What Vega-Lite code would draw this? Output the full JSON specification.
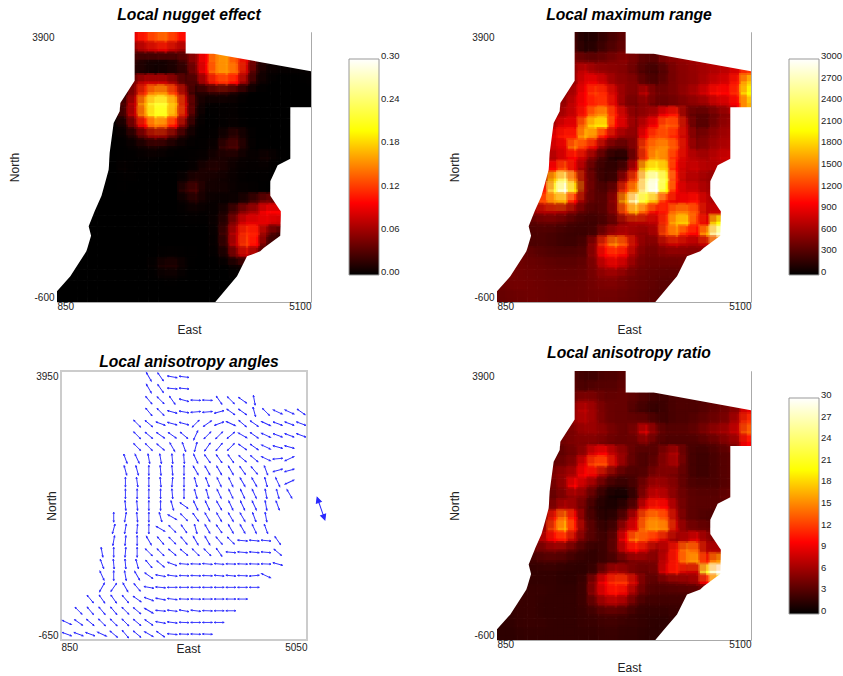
{"$schema":"https://vega.github.io/schema/vega-lite/v6.json","background":"white","padding":{"left":8,"top":6,"right":0,"bottom":0},"bounds":"flush","center":true,"columns":2,"spacing":{"row":69,"column":186},"resolve":{"scale":{"color":"independent"}},
"config":{"font":"Liberation Sans","view":{"stroke":"#aaa","strokeWidth":1},"title":{"font":"Liberation Sans","fontSize":15.7,"fontWeight":"bold","fontStyle":"italic","color":"#000","dx":5},"axis":{"domain":false,"ticks":false,"grid":false,"labelFlush":true,"labelFontSize":10,"labelColor":"#222","titleFontSize":12,"titleFontWeight":"normal","titleColor":"#222","labelOverlap":false,"labelExpr":"'' + datum.value"},"legend":{"gradientLength":216,"gradientThickness":30,"gradientStrokeColor":"#999","gradientStrokeWidth":1,"labelFontSize":9.5,"labelColor":"#222","labelOffset":6,"title":null}},
"datasets":{
"bnd":[{"y":3900,"xl":2149,"xr":3003},{"y":3540,"xl":2149,"xr":3003},{"y":3539,"xl":2149,"xr":3471},{"y":3244,"xl":2149,"xr":5100},{"y":3089,"xl":2149,"xr":5100},{"y":2717,"xl":1910,"xr":5100},{"y":2645,"xl":1905,"xr":5100},{"y":2644,"xl":1903,"xr":4754},{"y":2578,"xl":1899,"xr":4754},{"y":2383,"xl":1798,"xr":4754},{"y":1883,"xl":1731,"xr":4754},{"y":1789,"xl":1725,"xr":4754},{"y":1678,"xl":1720,"xr":4542},{"y":1605,"xl":1714,"xr":4508},{"y":1411,"xl":1662,"xr":4419},{"y":1172,"xl":1595,"xr":4419},{"y":939,"xl":1491,"xr":4575},{"y":911,"xl":1480,"xr":4598},{"y":661,"xl":1380,"xr":4592},{"y":505,"xl":1420,"xr":4586},{"y":300,"xl":1359,"xr":4308},{"y":244,"xl":1341,"xr":4250},{"y":161,"xl":1288,"xr":4029},{"y":-172,"xl":1073,"xr":3862},{"y":-422,"xl":850,"xr":3650},{"y":-600,"xl":850,"xr":3499}],
"cells":[
{"x":2125,"y":3810,"n":0.09,"r":250,"a":3},{"x":2295,"y":3810,"n":0.11,"r":120,"a":2.5},{"x":2465,"y":3810,"n":0.13,"r":150,"a":2.5},{"x":2635,"y":3810,"n":0.14,"r":220,"a":3},{"x":2805,"y":3810,"n":0.12,"r":300,"a":3},{"x":2975,"y":3810,"n":0.1,"r":380,"a":3.5},
{"x":2125,"y":3630,"n":0.05,"r":300,"a":3.5},{"x":2295,"y":3630,"n":0.07,"r":150,"a":3},{"x":2465,"y":3630,"n":0.08,"r":180,"a":3.5},{"x":2635,"y":3630,"n":0.09,"r":280,"a":3.5},{"x":2805,"y":3630,"n":0.07,"r":350,"a":3.5},{"x":2975,"y":3630,"n":0.06,"r":420,"a":4},
{"x":2125,"y":3450,"n":0.02,"r":500,"a":4.5},{"x":2295,"y":3450,"n":0.012,"r":450,"a":5.5},{"x":2465,"y":3450,"n":0.01,"r":420,"a":5},{"x":2635,"y":3450,"n":0.01,"r":450,"a":4},{"x":2805,"y":3450,"n":0.015,"r":500,"a":4},{"x":2975,"y":3450,"n":0.03,"r":550,"a":4},{"x":3145,"y":3450,"n":0.06,"r":450,"a":3.5},{"x":3315,"y":3450,"n":0.1,"r":350,"a":3},{"x":3485,"y":3450,"n":0.15,"r":350,"a":2.5},{"x":3655,"y":3450,"n":0.16,"r":500,"a":2.5},{"x":3825,"y":3450,"n":0.13,"r":550,"a":3},{"x":3995,"y":3450,"n":0.09,"r":600,"a":3},{"x":4165,"y":3450,"n":0.03,"r":650,"a":3},{"x":4335,"y":3450,"n":0.01,"r":700,"a":3},{"x":4505,"y":3450,"n":0.005,"r":750,"a":3.5},
{"x":2125,"y":3270,"n":0.015,"r":600,"a":6},{"x":2295,"y":3270,"n":0.01,"r":800,"a":7.5},{"x":2465,"y":3270,"n":0.006,"r":650,"a":6},{"x":2635,"y":3270,"n":0.008,"r":600,"a":4.5},{"x":2805,"y":3270,"n":0.012,"r":550,"a":4},{"x":2975,"y":3270,"n":0.02,"r":500,"a":4},{"x":3145,"y":3270,"n":0.05,"r":400,"a":3},{"x":3315,"y":3270,"n":0.1,"r":280,"a":2.5},{"x":3485,"y":3270,"n":0.15,"r":250,"a":2},{"x":3655,"y":3270,"n":0.16,"r":350,"a":2.5},{"x":3825,"y":3270,"n":0.14,"r":500,"a":3},{"x":3995,"y":3270,"n":0.08,"r":550,"a":3},{"x":4165,"y":3270,"n":0.02,"r":600,"a":3},{"x":4335,"y":3270,"n":0.005,"r":650,"a":3.5},{"x":4505,"y":3270,"n":0.003,"r":700,"a":4},{"x":4675,"y":3270,"n":0.002,"r":750,"a":4.5},{"x":4845,"y":3270,"n":0.002,"r":850,"a":5.5},{"x":5015,"y":3270,"n":0.002,"r":1200,"a":9},
{"x":2125,"y":3090,"n":0.05,"r":600,"a":6},{"x":2295,"y":3090,"n":0.08,"r":900,"a":7},{"x":2465,"y":3090,"n":0.08,"r":950,"a":6},{"x":2635,"y":3090,"n":0.08,"r":800,"a":4.5},{"x":2805,"y":3090,"n":0.06,"r":600,"a":4},{"x":2975,"y":3090,"n":0.03,"r":550,"a":4},{"x":3145,"y":3090,"n":0.03,"r":500,"a":4},{"x":3315,"y":3090,"n":0.07,"r":350,"a":4},{"x":3485,"y":3090,"n":0.11,"r":300,"a":3},{"x":3655,"y":3090,"n":0.12,"r":400,"a":2.5},{"x":3825,"y":3090,"n":0.1,"r":500,"a":3},{"x":3995,"y":3090,"n":0.05,"r":550,"a":3},{"x":4165,"y":3090,"n":0.01,"r":600,"a":3.5},{"x":4335,"y":3090,"n":0.003,"r":700,"a":4},{"x":4505,"y":3090,"n":0,"r":800,"a":4.5},{"x":4675,"y":3090,"n":0,"r":850,"a":5},{"x":4845,"y":3090,"n":0,"r":1100,"a":7},{"x":5015,"y":3090,"n":0.001,"r":1800,"a":12},
{"x":1955,"y":2910,"n":0.01,"r":500,"a":4},{"x":2125,"y":2910,"n":0.06,"r":700,"a":5},{"x":2295,"y":2910,"n":0.12,"r":1000,"a":6},{"x":2465,"y":2910,"n":0.16,"r":1250,"a":6},{"x":2635,"y":2910,"n":0.16,"r":1150,"a":5.5},{"x":2805,"y":2910,"n":0.12,"r":800,"a":4.5},{"x":2975,"y":2910,"n":0.06,"r":550,"a":4},{"x":3145,"y":2910,"n":0.015,"r":500,"a":5},{"x":3315,"y":2910,"n":0.015,"r":750,"a":8.5},{"x":3485,"y":2910,"n":0.02,"r":450,"a":5},{"x":3655,"y":2910,"n":0.02,"r":450,"a":3.5},{"x":3825,"y":2910,"n":0.01,"r":500,"a":3.5},{"x":3995,"y":2910,"n":0.003,"r":600,"a":3.5},{"x":4165,"y":2910,"n":0,"r":700,"a":4},{"x":4335,"y":2910,"n":0,"r":850,"a":5},{"x":4505,"y":2910,"n":0,"r":1050,"a":6},{"x":4675,"y":2910,"n":0,"r":1000,"a":6.5},{"x":4845,"y":2910,"n":0,"r":1200,"a":8},{"x":5015,"y":2910,"n":0,"r":2000,"a":14},
{"x":1955,"y":2730,"n":0.03,"r":600,"a":4.5},{"x":2125,"y":2730,"n":0.08,"r":800,"a":5},{"x":2295,"y":2730,"n":0.17,"r":1000,"a":5},{"x":2465,"y":2730,"n":0.22,"r":1150,"a":5},{"x":2635,"y":2730,"n":0.22,"r":1200,"a":4.5},{"x":2805,"y":2730,"n":0.17,"r":850,"a":4},{"x":2975,"y":2730,"n":0.08,"r":500,"a":4},{"x":3145,"y":2730,"n":0.02,"r":450,"a":4},{"x":3315,"y":2730,"n":0.003,"r":550,"a":5},{"x":3485,"y":2730,"n":0.002,"r":400,"a":3.5},{"x":3655,"y":2730,"n":0.002,"r":400,"a":3},{"x":3825,"y":2730,"n":0.002,"r":450,"a":3},{"x":3995,"y":2730,"n":0,"r":500,"a":3},{"x":4165,"y":2730,"n":0,"r":550,"a":3},{"x":4335,"y":2730,"n":0,"r":600,"a":3.5},{"x":4505,"y":2730,"n":0,"r":750,"a":4},{"x":4675,"y":2730,"n":0,"r":800,"a":5},{"x":4845,"y":2730,"n":0,"r":1000,"a":6},{"x":5015,"y":2730,"n":0,"r":1700,"a":10},
{"x":1785,"y":2550,"n":0.005,"r":500,"a":3},{"x":1955,"y":2550,"n":0.03,"r":700,"a":4},{"x":2125,"y":2550,"n":0.08,"r":800,"a":4.5},{"x":2295,"y":2550,"n":0.16,"r":1100,"a":6},{"x":2465,"y":2550,"n":0.21,"r":1500,"a":9},{"x":2635,"y":2550,"n":0.21,"r":1600,"a":10},{"x":2805,"y":2550,"n":0.16,"r":1100,"a":7},{"x":2975,"y":2550,"n":0.08,"r":750,"a":5.5},{"x":3145,"y":2550,"n":0.015,"r":500,"a":3.5},{"x":3315,"y":2550,"n":0,"r":600,"a":3},{"x":3485,"y":2550,"n":0.001,"r":700,"a":3.5},{"x":3655,"y":2550,"n":0.002,"r":1000,"a":5.5},{"x":3825,"y":2550,"n":0.002,"r":1100,"a":7},{"x":3995,"y":2550,"n":0,"r":500,"a":3.5},{"x":4165,"y":2550,"n":0,"r":350,"a":2.5},{"x":4335,"y":2550,"n":0,"r":350,"a":2.5},{"x":4505,"y":2550,"n":0,"r":450,"a":3},{"x":4675,"y":2550,"n":0,"r":550,"a":3.5},
{"x":1785,"y":2370,"n":0.002,"r":700,"a":4},{"x":1955,"y":2370,"n":0.01,"r":900,"a":4.5},{"x":2125,"y":2370,"n":0.05,"r":900,"a":5.5},{"x":2295,"y":2370,"n":0.1,"r":1500,"a":9},{"x":2465,"y":2370,"n":0.15,"r":1900,"a":13},{"x":2635,"y":2370,"n":0.14,"r":1900,"a":13},{"x":2805,"y":2370,"n":0.1,"r":1000,"a":8},{"x":2975,"y":2370,"n":0.04,"r":800,"a":5},{"x":3145,"y":2370,"n":0.005,"r":550,"a":3.5},{"x":3315,"y":2370,"n":0,"r":800,"a":3},{"x":3485,"y":2370,"n":0.001,"r":1000,"a":4},{"x":3655,"y":2370,"n":0.002,"r":1400,"a":5.5},{"x":3825,"y":2370,"n":0.003,"r":1300,"a":6.5},{"x":3995,"y":2370,"n":0.001,"r":700,"a":3.5},{"x":4165,"y":2370,"n":0,"r":350,"a":2.5},{"x":4335,"y":2370,"n":0,"r":350,"a":2.5},{"x":4505,"y":2370,"n":0,"r":500,"a":3},{"x":4675,"y":2370,"n":0,"r":600,"a":3.5},
{"x":1785,"y":2190,"n":0.001,"r":900,"a":5},{"x":1955,"y":2190,"n":0.003,"r":1100,"a":6},{"x":2125,"y":2190,"n":0.015,"r":1100,"a":7},{"x":2295,"y":2190,"n":0.04,"r":1700,"a":10},{"x":2465,"y":2190,"n":0.06,"r":1500,"a":9},{"x":2635,"y":2190,"n":0.055,"r":1000,"a":6},{"x":2805,"y":2190,"n":0.03,"r":700,"a":4},{"x":2975,"y":2190,"n":0.01,"r":550,"a":3},{"x":3145,"y":2190,"n":0.002,"r":550,"a":3},{"x":3315,"y":2190,"n":0.001,"r":1000,"a":3.5},{"x":3485,"y":2190,"n":0.002,"r":1300,"a":5},{"x":3655,"y":2190,"n":0.01,"r":1300,"a":5},{"x":3825,"y":2190,"n":0.02,"r":1100,"a":4.5},{"x":3995,"y":2190,"n":0.006,"r":750,"a":3.5},{"x":4165,"y":2190,"n":0,"r":450,"a":2.5},{"x":4335,"y":2190,"n":0,"r":500,"a":2.5},{"x":4505,"y":2190,"n":0,"r":600,"a":3},{"x":4675,"y":2190,"n":0,"r":650,"a":3.5},
{"x":1785,"y":2010,"n":0,"r":800,"a":4.5},{"x":1955,"y":2010,"n":0.001,"r":900,"a":6},{"x":2125,"y":2010,"n":0.004,"r":1500,"a":10},{"x":2295,"y":2010,"n":0.008,"r":1200,"a":7},{"x":2465,"y":2010,"n":0.012,"r":900,"a":5},{"x":2635,"y":2010,"n":0.008,"r":500,"a":3},{"x":2805,"y":2010,"n":0.004,"r":350,"a":2},{"x":2975,"y":2010,"n":0.002,"r":350,"a":2},{"x":3145,"y":2010,"n":0.001,"r":550,"a":3},{"x":3315,"y":2010,"n":0.002,"r":1300,"a":5},{"x":3485,"y":2010,"n":0.005,"r":1500,"a":6.5},{"x":3655,"y":2010,"n":0.025,"r":1550,"a":6},{"x":3825,"y":2010,"n":0.03,"r":1300,"a":5},{"x":3995,"y":2010,"n":0.008,"r":800,"a":3.5},{"x":4165,"y":2010,"n":0,"r":500,"a":3},{"x":4335,"y":2010,"n":0.001,"r":550,"a":3},{"x":4505,"y":2010,"n":0,"r":650,"a":3},{"x":4675,"y":2010,"n":0,"r":700,"a":3.5},
{"x":1785,"y":1830,"n":0,"r":700,"a":4},{"x":1955,"y":1830,"n":0.001,"r":850,"a":5},{"x":2125,"y":1830,"n":0.001,"r":1000,"a":6},{"x":2295,"y":1830,"n":0.002,"r":750,"a":5},{"x":2465,"y":1830,"n":0.002,"r":450,"a":3},{"x":2635,"y":1830,"n":0.001,"r":250,"a":1.5},{"x":2805,"y":1830,"n":0,"r":120,"a":0.7},{"x":2975,"y":1830,"n":0.001,"r":150,"a":0.8},{"x":3145,"y":1830,"n":0.002,"r":500,"a":2.5},{"x":3315,"y":1830,"n":0.004,"r":1200,"a":6},{"x":3485,"y":1830,"n":0.01,"r":1650,"a":8},{"x":3655,"y":1830,"n":0.01,"r":1500,"a":7},{"x":3825,"y":1830,"n":0.008,"r":1100,"a":5},{"x":3995,"y":1830,"n":0.003,"r":800,"a":4},{"x":4165,"y":1830,"n":0.003,"r":700,"a":3.5},{"x":4335,"y":1830,"n":0.008,"r":650,"a":3.5},{"x":4505,"y":1830,"n":0.002,"r":750,"a":3.5},{"x":4675,"y":1830,"n":0,"r":800,"a":4},
{"x":1785,"y":1650,"n":0,"r":1000,"a":5},{"x":1955,"y":1650,"n":0.003,"r":1350,"a":7},{"x":2125,"y":1650,"n":0.001,"r":900,"a":6},{"x":2295,"y":1650,"n":0.001,"r":550,"a":4},{"x":2465,"y":1650,"n":0,"r":300,"a":2},{"x":2635,"y":1650,"n":0,"r":200,"a":1.2},{"x":2805,"y":1650,"n":0,"r":200,"a":1.2},{"x":2975,"y":1650,"n":0.001,"r":350,"a":2.2},{"x":3145,"y":1650,"n":0.004,"r":800,"a":4},{"x":3315,"y":1650,"n":0.012,"r":1900,"a":9},{"x":3485,"y":1650,"n":0.015,"r":2100,"a":11},{"x":3655,"y":1650,"n":0.01,"r":1800,"a":10},{"x":3825,"y":1650,"n":0.004,"r":1000,"a":6},{"x":3995,"y":1650,"n":0.002,"r":750,"a":4},{"x":4165,"y":1650,"n":0.002,"r":800,"a":3.5},{"x":4335,"y":1650,"n":0.002,"r":700,"a":3.5},{"x":4505,"y":1650,"n":0,"r":700,"a":3.5},{"x":4675,"y":1650,"n":0,"r":750,"a":3.5},
{"x":1615,"y":1470,"n":0,"r":700,"a":4},{"x":1785,"y":1470,"n":0,"r":1800,"a":11},{"x":1955,"y":1470,"n":0.001,"r":2500,"a":15},{"x":2125,"y":1470,"n":0.001,"r":1500,"a":10},{"x":2295,"y":1470,"n":0,"r":600,"a":4},{"x":2465,"y":1470,"n":0,"r":350,"a":2.5},{"x":2635,"y":1470,"n":0,"r":200,"a":1.5},{"x":2805,"y":1470,"n":0,"r":250,"a":2},{"x":2975,"y":1470,"n":0.006,"r":650,"a":4},{"x":3145,"y":1470,"n":0.015,"r":1300,"a":8},{"x":3315,"y":1470,"n":0.01,"r":2600,"a":14},{"x":3485,"y":1470,"n":0.008,"r":2900,"a":15},{"x":3655,"y":1470,"n":0.006,"r":2200,"a":13},{"x":3825,"y":1470,"n":0.003,"r":1100,"a":7},{"x":3995,"y":1470,"n":0.001,"r":700,"a":4},{"x":4165,"y":1470,"n":0.001,"r":700,"a":3.5},{"x":4335,"y":1470,"n":0.001,"r":600,"a":3},{"x":4505,"y":1470,"n":0,"r":550,"a":3},
{"x":1615,"y":1290,"n":0,"r":1100,"a":6},{"x":1785,"y":1290,"n":0,"r":2300,"a":13},{"x":1955,"y":1290,"n":0.001,"r":2950,"a":17},{"x":2125,"y":1290,"n":0,"r":1900,"a":11},{"x":2295,"y":1290,"n":0,"r":600,"a":5},{"x":2465,"y":1290,"n":0,"r":350,"a":3},{"x":2635,"y":1290,"n":0,"r":300,"a":2},{"x":2805,"y":1290,"n":0,"r":450,"a":3},{"x":2975,"y":1290,"n":0.02,"r":1200,"a":7},{"x":3145,"y":1290,"n":0.03,"r":1600,"a":9},{"x":3315,"y":1290,"n":0.008,"r":2700,"a":15},{"x":3485,"y":1290,"n":0.008,"r":3000,"a":16},{"x":3655,"y":1290,"n":0.008,"r":2000,"a":15},{"x":3825,"y":1290,"n":0.004,"r":1000,"a":8},{"x":3995,"y":1290,"n":0.003,"r":800,"a":5},{"x":4165,"y":1290,"n":0.002,"r":800,"a":4.5},{"x":4335,"y":1290,"n":0,"r":650,"a":4},
{"x":1615,"y":1110,"n":0,"r":1300,"a":7},{"x":1785,"y":1110,"n":0,"r":1600,"a":10},{"x":1955,"y":1110,"n":0,"r":1700,"a":11},{"x":2125,"y":1110,"n":0,"r":1000,"a":7},{"x":2295,"y":1110,"n":0,"r":500,"a":4},{"x":2465,"y":1110,"n":0,"r":350,"a":3},{"x":2635,"y":1110,"n":0,"r":350,"a":2.5},{"x":2805,"y":1110,"n":0,"r":600,"a":4},{"x":2975,"y":1110,"n":0.006,"r":1700,"a":10},{"x":3145,"y":1110,"n":0.015,"r":2800,"a":15},{"x":3315,"y":1110,"n":0.006,"r":2100,"a":13},{"x":3485,"y":1110,"n":0.004,"r":1700,"a":11},{"x":3655,"y":1110,"n":0.004,"r":1100,"a":8},{"x":3825,"y":1110,"n":0.006,"r":900,"a":6},{"x":3995,"y":1110,"n":0.015,"r":950,"a":7},{"x":4165,"y":1110,"n":0.03,"r":1050,"a":9},{"x":4335,"y":1110,"n":0.05,"r":750,"a":6},{"x":4505,"y":1110,"n":0.04,"r":650,"a":5},
{"x":1445,"y":930,"n":0,"r":600,"a":4},{"x":1615,"y":930,"n":0,"r":700,"a":4.5},{"x":1785,"y":930,"n":0,"r":700,"a":5},{"x":1955,"y":930,"n":0,"r":650,"a":4.5},{"x":2125,"y":930,"n":0,"r":500,"a":3.5},{"x":2295,"y":930,"n":0,"r":350,"a":2.5},{"x":2465,"y":930,"n":0,"r":300,"a":2},{"x":2635,"y":930,"n":0,"r":350,"a":2.5},{"x":2805,"y":930,"n":0,"r":550,"a":4},{"x":2975,"y":930,"n":0.002,"r":1300,"a":8},{"x":3145,"y":930,"n":0.003,"r":1700,"a":10},{"x":3315,"y":930,"n":0.002,"r":1300,"a":8},{"x":3485,"y":930,"n":0.003,"r":950,"a":5.5},{"x":3655,"y":930,"n":0.012,"r":1100,"a":7},{"x":3825,"y":930,"n":0.035,"r":1500,"a":11},{"x":3995,"y":930,"n":0.06,"r":1500,"a":15},{"x":4165,"y":930,"n":0.07,"r":1300,"a":14},{"x":4335,"y":930,"n":0.1,"r":750,"a":7},{"x":4505,"y":930,"n":0.1,"r":800,"a":7},
{"x":1445,"y":750,"n":0,"r":350,"a":2.5},{"x":1615,"y":750,"n":0,"r":400,"a":3},{"x":1785,"y":750,"n":0,"r":400,"a":3},{"x":1955,"y":750,"n":0,"r":350,"a":2.8},{"x":2125,"y":750,"n":0,"r":280,"a":2.2},{"x":2295,"y":750,"n":0,"r":250,"a":2},{"x":2465,"y":750,"n":0,"r":250,"a":2},{"x":2635,"y":750,"n":0,"r":300,"a":2.5},{"x":2805,"y":750,"n":0,"r":400,"a":3},{"x":2975,"y":750,"n":0.001,"r":600,"a":4},{"x":3145,"y":750,"n":0.001,"r":700,"a":5},{"x":3315,"y":750,"n":0.001,"r":700,"a":5},{"x":3485,"y":750,"n":0.005,"r":750,"a":5},{"x":3655,"y":750,"n":0.02,"r":1200,"a":8},{"x":3825,"y":750,"n":0.06,"r":1750,"a":11},{"x":3995,"y":750,"n":0.09,"r":1800,"a":15},{"x":4165,"y":750,"n":0.09,"r":1200,"a":16},{"x":4335,"y":750,"n":0.09,"r":900,"a":11},{"x":4505,"y":750,"n":0.08,"r":2000,"a":16},
{"x":1445,"y":570,"n":0,"r":300,"a":2},{"x":1615,"y":570,"n":0,"r":300,"a":2},{"x":1785,"y":570,"n":0,"r":280,"a":2},{"x":1955,"y":570,"n":0,"r":250,"a":1.8},{"x":2125,"y":570,"n":0,"r":230,"a":1.8},{"x":2295,"y":570,"n":0,"r":230,"a":1.8},{"x":2465,"y":570,"n":0,"r":280,"a":2.5},{"x":2635,"y":570,"n":0,"r":500,"a":5},{"x":2805,"y":570,"n":0,"r":650,"a":7},{"x":2975,"y":570,"n":0,"r":700,"a":6},{"x":3145,"y":570,"n":0,"r":600,"a":4.5},{"x":3315,"y":570,"n":0,"r":550,"a":4},{"x":3485,"y":570,"n":0.004,"r":650,"a":4.5},{"x":3655,"y":570,"n":0.03,"r":1300,"a":9},{"x":3825,"y":570,"n":0.08,"r":1500,"a":11},{"x":3995,"y":570,"n":0.12,"r":1100,"a":8},{"x":4165,"y":570,"n":0.11,"r":1000,"a":8},{"x":4335,"y":570,"n":0.05,"r":1700,"a":22},{"x":4505,"y":570,"n":0.025,"r":2800,"a":30},
{"x":1445,"y":390,"n":0,"r":300,"a":2},{"x":1615,"y":390,"n":0,"r":300,"a":2},{"x":1785,"y":390,"n":0,"r":280,"a":2},{"x":1955,"y":390,"n":0,"r":250,"a":1.8},{"x":2125,"y":390,"n":0,"r":250,"a":1.8},{"x":2295,"y":390,"n":0,"r":300,"a":2.5},{"x":2465,"y":390,"n":0,"r":600,"a":6},{"x":2635,"y":390,"n":0,"r":1200,"a":10},{"x":2805,"y":390,"n":0,"r":1550,"a":12},{"x":2975,"y":390,"n":0,"r":1300,"a":12},{"x":3145,"y":390,"n":0,"r":750,"a":8},{"x":3315,"y":390,"n":0,"r":500,"a":4},{"x":3485,"y":390,"n":0.004,"r":500,"a":3.5},{"x":3655,"y":390,"n":0.025,"r":700,"a":4},{"x":3825,"y":390,"n":0.08,"r":800,"a":4.5},{"x":3995,"y":390,"n":0.125,"r":700,"a":5},{"x":4165,"y":390,"n":0.1,"r":650,"a":6},{"x":4335,"y":390,"n":0.03,"r":800,"a":10},{"x":4505,"y":390,"n":0.02,"r":1500,"a":18},
{"x":1275,"y":210,"n":0,"r":400,"a":2.2},{"x":1445,"y":210,"n":0,"r":380,"a":2.2},{"x":1615,"y":210,"n":0,"r":350,"a":2.2},{"x":1785,"y":210,"n":0,"r":330,"a":2},{"x":1955,"y":210,"n":0,"r":320,"a":2},{"x":2125,"y":210,"n":0,"r":330,"a":2},{"x":2295,"y":210,"n":0,"r":350,"a":2.5},{"x":2465,"y":210,"n":0,"r":600,"a":6},{"x":2635,"y":210,"n":0.002,"r":1000,"a":9},{"x":2805,"y":210,"n":0.002,"r":1100,"a":10.5},{"x":2975,"y":210,"n":0.001,"r":950,"a":9},{"x":3145,"y":210,"n":0.001,"r":600,"a":5.5},{"x":3315,"y":210,"n":0,"r":450,"a":3.5},{"x":3485,"y":210,"n":0.002,"r":450,"a":3},{"x":3655,"y":210,"n":0.012,"r":500,"a":3},{"x":3825,"y":210,"n":0.05,"r":500,"a":3},{"x":3995,"y":210,"n":0.08,"r":500,"a":3},{"x":4165,"y":210,"n":0.05,"r":500,"a":3},{"x":4335,"y":210,"n":0.02,"r":500,"a":3},
{"x":1105,"y":30,"n":0,"r":450,"a":2.2},{"x":1275,"y":30,"n":0,"r":430,"a":2.2},{"x":1445,"y":30,"n":0,"r":420,"a":2.2},{"x":1615,"y":30,"n":0,"r":400,"a":2},{"x":1785,"y":30,"n":0,"r":380,"a":2},{"x":1955,"y":30,"n":0,"r":370,"a":2},{"x":2125,"y":30,"n":0,"r":370,"a":2},{"x":2295,"y":30,"n":0,"r":400,"a":2.5},{"x":2465,"y":30,"n":0.003,"r":500,"a":4},{"x":2635,"y":30,"n":0.012,"r":750,"a":6},{"x":2805,"y":30,"n":0.012,"r":850,"a":6.5},{"x":2975,"y":30,"n":0.003,"r":700,"a":5.5},{"x":3145,"y":30,"n":0,"r":500,"a":3.5},{"x":3315,"y":30,"n":0,"r":430,"a":2.5},{"x":3485,"y":30,"n":0,"r":420,"a":2.5},{"x":3655,"y":30,"n":0.001,"r":420,"a":2.5},{"x":3825,"y":30,"n":0.006,"r":420,"a":2.5},{"x":3995,"y":30,"n":0.01,"r":430,"a":2.5},
{"x":935,"y":-150,"n":0,"r":450,"a":2},{"x":1105,"y":-150,"n":0,"r":450,"a":2},{"x":1275,"y":-150,"n":0,"r":440,"a":2.2},{"x":1445,"y":-150,"n":0,"r":430,"a":2.2},{"x":1615,"y":-150,"n":0,"r":420,"a":2},{"x":1785,"y":-150,"n":0,"r":400,"a":2},{"x":1955,"y":-150,"n":0,"r":400,"a":2},{"x":2125,"y":-150,"n":0,"r":400,"a":2},{"x":2295,"y":-150,"n":0,"r":420,"a":2.2},{"x":2465,"y":-150,"n":0.001,"r":480,"a":2.5},{"x":2635,"y":-150,"n":0.004,"r":550,"a":3},{"x":2805,"y":-150,"n":0.004,"r":550,"a":3},{"x":2975,"y":-150,"n":0.001,"r":480,"a":2.8},{"x":3145,"y":-150,"n":0,"r":430,"a":2.2},{"x":3315,"y":-150,"n":0,"r":400,"a":2},{"x":3485,"y":-150,"n":0,"r":380,"a":2},{"x":3655,"y":-150,"n":0,"r":370,"a":2},{"x":3825,"y":-150,"n":0.001,"r":370,"a":2.2},{"x":3995,"y":-150,"n":0.001,"r":370,"a":2.2},
{"x":935,"y":-330,"n":0,"r":420,"a":1.8},{"x":1105,"y":-330,"n":0,"r":450,"a":2},{"x":1275,"y":-330,"n":0,"r":450,"a":2.2},{"x":1445,"y":-330,"n":0,"r":440,"a":2.2},{"x":1615,"y":-330,"n":0,"r":430,"a":2.2},{"x":1785,"y":-330,"n":0,"r":420,"a":2},{"x":1955,"y":-330,"n":0,"r":420,"a":2},{"x":2125,"y":-330,"n":0,"r":420,"a":2},{"x":2295,"y":-330,"n":0,"r":430,"a":2.2},{"x":2465,"y":-330,"n":0,"r":460,"a":2.2},{"x":2635,"y":-330,"n":0,"r":480,"a":2.5},{"x":2805,"y":-330,"n":0,"r":480,"a":2.5},{"x":2975,"y":-330,"n":0,"r":450,"a":2.2},{"x":3145,"y":-330,"n":0,"r":420,"a":2.2},{"x":3315,"y":-330,"n":0,"r":400,"a":2},{"x":3485,"y":-330,"n":0,"r":370,"a":1.8},{"x":3655,"y":-330,"n":0,"r":350,"a":1.8},{"x":3825,"y":-330,"n":0,"r":350,"a":2},
{"x":935,"y":-510,"n":0,"r":400,"a":1.8},{"x":1105,"y":-510,"n":0,"r":420,"a":1.8},{"x":1275,"y":-510,"n":0,"r":430,"a":2},{"x":1445,"y":-510,"n":0,"r":440,"a":2},{"x":1615,"y":-510,"n":0,"r":430,"a":2},{"x":1785,"y":-510,"n":0,"r":420,"a":2},{"x":1955,"y":-510,"n":0,"r":420,"a":2},{"x":2125,"y":-510,"n":0,"r":420,"a":2},{"x":2295,"y":-510,"n":0,"r":430,"a":2},{"x":2465,"y":-510,"n":0,"r":440,"a":2},{"x":2635,"y":-510,"n":0,"r":440,"a":2.2},{"x":2805,"y":-510,"n":0,"r":440,"a":2.2},{"x":2975,"y":-510,"n":0,"r":420,"a":2},{"x":3145,"y":-510,"n":0,"r":400,"a":2},{"x":3315,"y":-510,"n":0,"r":380,"a":1.8},{"x":3485,"y":-510,"n":0,"r":360,"a":1.8},{"x":3655,"y":-510,"n":0,"r":340,"a":1.8}],
"arrows":[
{"x":2350,"y":3850,"t":150},{"x":2550,"y":3850,"t":145},{"x":2750,"y":3850,"t":100},{"x":2950,"y":3850,"t":97},
{"x":2350,"y":3650,"t":150},{"x":2550,"y":3650,"t":145},{"x":2750,"y":3650,"t":95},{"x":2950,"y":3650,"t":95},
{"x":2350,"y":3450,"t":140},{"x":2550,"y":3450,"t":135},{"x":2750,"y":3450,"t":145},{"x":2950,"y":3450,"t":105},{"x":3150,"y":3450,"t":92},{"x":3350,"y":3450,"t":92},{"x":3550,"y":3450,"t":145},{"x":3750,"y":3450,"t":135},{"x":3950,"y":3450,"t":125},{"x":4150,"y":3450,"t":170},
{"x":2350,"y":3250,"t":140},{"x":2550,"y":3250,"t":135},{"x":2750,"y":3250,"t":105},{"x":2950,"y":3250,"t":100},{"x":3150,"y":3250,"t":85},{"x":3350,"y":3250,"t":85},{"x":3550,"y":3250,"t":75},{"x":3750,"y":3250,"t":125},{"x":3950,"y":3250,"t":125},{"x":4150,"y":3250,"t":165},{"x":4350,"y":3250,"t":135},{"x":4550,"y":3250,"t":115},{"x":4750,"y":3250,"t":115},{"x":4950,"y":3250,"t":125},
{"x":2150,"y":3050,"t":135},{"x":2350,"y":3050,"t":130},{"x":2550,"y":3050,"t":110},{"x":2750,"y":3050,"t":105},{"x":2950,"y":3050,"t":105},{"x":3150,"y":3050,"t":45},{"x":3350,"y":3050,"t":55},{"x":3550,"y":3050,"t":70},{"x":3750,"y":3050,"t":115},{"x":3950,"y":3050,"t":130},{"x":4150,"y":3050,"t":125},{"x":4350,"y":3050,"t":115},{"x":4550,"y":3050,"t":110},{"x":4750,"y":3050,"t":110},{"x":4950,"y":3050,"t":110},
{"x":2150,"y":2850,"t":135},{"x":2350,"y":2850,"t":130},{"x":2550,"y":2850,"t":125},{"x":2750,"y":2850,"t":125},{"x":2950,"y":2850,"t":130},{"x":3150,"y":2850,"t":25},{"x":3350,"y":2850,"t":45},{"x":3550,"y":2850,"t":45},{"x":3750,"y":2850,"t":50},{"x":3950,"y":2850,"t":120},{"x":4150,"y":2850,"t":125},{"x":4350,"y":2850,"t":115},{"x":4550,"y":2850,"t":110},{"x":4750,"y":2850,"t":110},{"x":4950,"y":2850,"t":110},
{"x":2150,"y":2650,"t":135},{"x":2350,"y":2650,"t":135},{"x":2550,"y":2650,"t":130},{"x":2750,"y":2650,"t":150},{"x":2950,"y":2650,"t":160},{"x":3150,"y":2650,"t":15},{"x":3350,"y":2650,"t":35},{"x":3550,"y":2650,"t":40},{"x":3750,"y":2650,"t":45},{"x":3950,"y":2650,"t":125},{"x":4150,"y":2650,"t":125},{"x":4350,"y":2650,"t":115},{"x":4550,"y":2650,"t":105},{"x":4750,"y":2650,"t":105},
{"x":1950,"y":2450,"t":160},{"x":2150,"y":2450,"t":155},{"x":2350,"y":2450,"t":170},{"x":2550,"y":2450,"t":170},{"x":2750,"y":2450,"t":175},{"x":2950,"y":2450,"t":175},{"x":3150,"y":2450,"t":155},{"x":3350,"y":2450,"t":145},{"x":3550,"y":2450,"t":145},{"x":3750,"y":2450,"t":145},{"x":3950,"y":2450,"t":130},{"x":4150,"y":2450,"t":130},{"x":4350,"y":2450,"t":115},{"x":4550,"y":2450,"t":85},{"x":4750,"y":2450,"t":65},
{"x":1950,"y":2250,"t":165},{"x":2150,"y":2250,"t":165},{"x":2350,"y":2250,"t":180},{"x":2550,"y":2250,"t":175},{"x":2750,"y":2250,"t":175},{"x":2950,"y":2250,"t":180},{"x":3150,"y":2250,"t":150},{"x":3350,"y":2250,"t":150},{"x":3550,"y":2250,"t":150},{"x":3750,"y":2250,"t":150},{"x":3950,"y":2250,"t":145},{"x":4150,"y":2250,"t":140},{"x":4350,"y":2250,"t":160},{"x":4550,"y":2250,"t":75},{"x":4750,"y":2250,"t":75},
{"x":1950,"y":2050,"t":180},{"x":2150,"y":2050,"t":172},{"x":2350,"y":2050,"t":180},{"x":2550,"y":2050,"t":175},{"x":2750,"y":2050,"t":5},{"x":2950,"y":2050,"t":180},{"x":3150,"y":2050,"t":165},{"x":3350,"y":2050,"t":160},{"x":3550,"y":2050,"t":155},{"x":3750,"y":2050,"t":155},{"x":3950,"y":2050,"t":150},{"x":4150,"y":2050,"t":150},{"x":4350,"y":2050,"t":165},{"x":4550,"y":2050,"t":155},{"x":4750,"y":2050,"t":65},
{"x":1950,"y":1850,"t":180},{"x":2150,"y":1850,"t":180},{"x":2350,"y":1850,"t":180},{"x":2550,"y":1850,"t":180},{"x":2750,"y":1850,"t":175},{"x":2950,"y":1850,"t":180},{"x":3150,"y":1850,"t":165},{"x":3350,"y":1850,"t":165},{"x":3550,"y":1850,"t":155},{"x":3750,"y":1850,"t":155},{"x":3950,"y":1850,"t":155},{"x":4150,"y":1850,"t":155},{"x":4350,"y":1850,"t":170},{"x":4550,"y":1850,"t":165},{"x":4750,"y":1850,"t":150},
{"x":1950,"y":1650,"t":175},{"x":2150,"y":1650,"t":175},{"x":2350,"y":1650,"t":180},{"x":2550,"y":1650,"t":180},{"x":2750,"y":1650,"t":165},{"x":2950,"y":1650,"t":125},{"x":3150,"y":1650,"t":155},{"x":3350,"y":1650,"t":155},{"x":3550,"y":1650,"t":150},{"x":3750,"y":1650,"t":155},{"x":3950,"y":1650,"t":155},{"x":4150,"y":1650,"t":155},{"x":4350,"y":1650,"t":170},{"x":4550,"y":1650,"t":160},
{"x":1750,"y":1450,"t":180},{"x":1950,"y":1450,"t":10},{"x":2150,"y":1450,"t":175},{"x":2350,"y":1450,"t":180},{"x":2550,"y":1450,"t":165},{"x":2750,"y":1450,"t":120},{"x":2950,"y":1450,"t":135},{"x":3150,"y":1450,"t":145},{"x":3350,"y":1450,"t":150},{"x":3550,"y":1450,"t":150},{"x":3750,"y":1450,"t":150},{"x":3950,"y":1450,"t":150},{"x":4150,"y":1450,"t":160},{"x":4350,"y":1450,"t":170},
{"x":1750,"y":1250,"t":15},{"x":1950,"y":1250,"t":10},{"x":2150,"y":1250,"t":5},{"x":2350,"y":1250,"t":180},{"x":2550,"y":1250,"t":120},{"x":2750,"y":1250,"t":135},{"x":2950,"y":1250,"t":145},{"x":3150,"y":1250,"t":165},{"x":3350,"y":1250,"t":150},{"x":3550,"y":1250,"t":145},{"x":3750,"y":1250,"t":150},{"x":3950,"y":1250,"t":150},{"x":4150,"y":1250,"t":155},{"x":4350,"y":1250,"t":160},
{"x":1750,"y":1050,"t":10},{"x":1950,"y":1050,"t":5},{"x":2150,"y":1050,"t":0},{"x":2350,"y":1050,"t":150},{"x":2550,"y":1050,"t":140},{"x":2750,"y":1050,"t":135},{"x":2950,"y":1050,"t":140},{"x":3150,"y":1050,"t":150},{"x":3350,"y":1050,"t":150},{"x":3550,"y":1050,"t":140},{"x":3750,"y":1050,"t":135},{"x":3950,"y":1050,"t":95},{"x":4150,"y":1050,"t":95},{"x":4350,"y":1050,"t":95},{"x":4550,"y":1050,"t":145},
{"x":1550,"y":850,"t":170},{"x":1750,"y":850,"t":0},{"x":1950,"y":850,"t":5},{"x":2150,"y":850,"t":0},{"x":2350,"y":850,"t":135},{"x":2550,"y":850,"t":135},{"x":2750,"y":850,"t":130},{"x":2950,"y":850,"t":130},{"x":3150,"y":850,"t":135},{"x":3350,"y":850,"t":135},{"x":3550,"y":850,"t":145},{"x":3750,"y":850,"t":95},{"x":3950,"y":850,"t":95},{"x":4150,"y":850,"t":95},{"x":4350,"y":850,"t":95},{"x":4550,"y":850,"t":130},
{"x":1550,"y":650,"t":160},{"x":1750,"y":650,"t":175},{"x":1950,"y":650,"t":175},{"x":2150,"y":650,"t":165},{"x":2350,"y":650,"t":140},{"x":2550,"y":650,"t":130},{"x":2750,"y":650,"t":110},{"x":2950,"y":650,"t":95},{"x":3150,"y":650,"t":92},{"x":3350,"y":650,"t":95},{"x":3550,"y":650,"t":95},{"x":3750,"y":650,"t":92},{"x":3950,"y":650,"t":92},{"x":4150,"y":650,"t":92},{"x":4350,"y":650,"t":92},{"x":4550,"y":650,"t":105},
{"x":1550,"y":450,"t":155},{"x":1750,"y":450,"t":180},{"x":1950,"y":450,"t":170},{"x":2150,"y":450,"t":150},{"x":2350,"y":450,"t":125},{"x":2550,"y":450,"t":100},{"x":2750,"y":450,"t":97},{"x":2950,"y":450,"t":92},{"x":3150,"y":450,"t":92},{"x":3350,"y":450,"t":92},{"x":3550,"y":450,"t":95},{"x":3750,"y":450,"t":95},{"x":3950,"y":450,"t":92},{"x":4150,"y":450,"t":85},{"x":4350,"y":450,"t":115},
{"x":1550,"y":250,"t":30},{"x":1750,"y":250,"t":35},{"x":1950,"y":250,"t":150},{"x":2150,"y":250,"t":140},{"x":2350,"y":250,"t":100},{"x":2550,"y":250,"t":95},{"x":2750,"y":250,"t":90},{"x":2950,"y":250,"t":90},{"x":3150,"y":250,"t":90},{"x":3350,"y":250,"t":90},{"x":3550,"y":250,"t":90},{"x":3750,"y":250,"t":90},{"x":3950,"y":250,"t":90},{"x":4150,"y":250,"t":90},
{"x":1350,"y":50,"t":140},{"x":1550,"y":50,"t":145},{"x":1750,"y":50,"t":145},{"x":1950,"y":50,"t":140},{"x":2150,"y":50,"t":125},{"x":2350,"y":50,"t":110},{"x":2550,"y":50,"t":100},{"x":2750,"y":50,"t":97},{"x":2950,"y":50,"t":92},{"x":3150,"y":50,"t":92},{"x":3350,"y":50,"t":90},{"x":3550,"y":50,"t":90},{"x":3750,"y":50,"t":90},{"x":3950,"y":50,"t":90},
{"x":1150,"y":-150,"t":135},{"x":1350,"y":-150,"t":140},{"x":1550,"y":-150,"t":140},{"x":1750,"y":-150,"t":140},{"x":1950,"y":-150,"t":135},{"x":2150,"y":-150,"t":130},{"x":2350,"y":-150,"t":120},{"x":2550,"y":-150,"t":95},{"x":2750,"y":-150,"t":97},{"x":2950,"y":-150,"t":100},{"x":3150,"y":-150,"t":97},{"x":3350,"y":-150,"t":92},{"x":3550,"y":-150,"t":90},{"x":3750,"y":-150,"t":90},
{"x":950,"y":-350,"t":115},{"x":1150,"y":-350,"t":125},{"x":1350,"y":-350,"t":130},{"x":1550,"y":-350,"t":135},{"x":1750,"y":-350,"t":135},{"x":1950,"y":-350,"t":135},{"x":2150,"y":-350,"t":130},{"x":2350,"y":-350,"t":125},{"x":2550,"y":-350,"t":100},{"x":2750,"y":-350,"t":97},{"x":2950,"y":-350,"t":92},{"x":3150,"y":-350,"t":90},{"x":3350,"y":-350,"t":90},{"x":3550,"y":-350,"t":90},
{"x":950,"y":-550,"t":110},{"x":1150,"y":-550,"t":110},{"x":1350,"y":-550,"t":110},{"x":1550,"y":-550,"t":115},{"x":1750,"y":-550,"t":130},{"x":1950,"y":-550,"t":140},{"x":2150,"y":-550,"t":130},{"x":2350,"y":-550,"t":120},{"x":2550,"y":-550,"t":125},{"x":2750,"y":-550,"t":95},{"x":2950,"y":-550,"t":92},{"x":3150,"y":-550,"t":92},{"x":3350,"y":-550,"t":92}],
"key":[{"x":5289,"y":1597,"t":161}]},
"concat":[
{"title":{"text":"Local nugget effect","offset":8},"width":254,"height":270,"layer":[
{"data":{"name":"cells"},"mark":{"type":"rect","width":10.6,"height":11.2,"clip":true},"encoding":{"x":{"field":"x","type":"quantitative","scale":{"domain":[850,5100],"nice":false,"zero":false},"axis":{"values":[850,5100],"title":"East","labelPadding":-1,"titlePadding":13,"titleX":132}},"y":{"field":"y","type":"quantitative","scale":{"domain":[-600,3900],"nice":false,"zero":false},"axis":{"values":[-600,3900],"title":"North","labelPadding":3,"titlePadding":10}},"color":{"field":"n","type":"quantitative","scale":{"domain":[0,0.3],"range":["#000000","#ff0000","#ffff00","#ffffff"],"interpolate":"rgb"},"legend":{"orient":"none","legendX":292,"legendY":27,"values":[0,0.06,0.12,0.18,0.24,0.3],"format":".2f","encode":{"labels":{"update":{"baseline":{"value":"alphabetic"}}}}}}}},
{"data":{"name":"cells"},"mark":{"type":"rect","width":18,"height":19,"clip":true,"opacity":0.35,"xOffset":2,"yOffset":2},"encoding":{"x":{"field":"x","type":"quantitative"},"y":{"field":"y","type":"quantitative"},"color":{"field":"n","type":"quantitative"}}},
{"data":{"name":"bnd"},"mark":{"type":"area","orient":"horizontal","color":"white","clip":true},"encoding":{"y":{"field":"y","type":"quantitative"},"x":{"field":"xl","type":"quantitative"},"x2":{"datum":850}}},
{"data":{"name":"bnd"},"mark":{"type":"area","orient":"horizontal","color":"white","clip":true},"encoding":{"y":{"field":"y","type":"quantitative"},"x":{"field":"xr","type":"quantitative"},"x2":{"datum":5100}}}]},
{"title":{"text":"Local maximum range","offset":8},"width":254,"height":270,"layer":[
{"data":{"name":"cells"},"mark":{"type":"rect","width":10.6,"height":11.2,"clip":true},"encoding":{"x":{"field":"x","type":"quantitative","scale":{"domain":[850,5100],"nice":false,"zero":false},"axis":{"values":[850,5100],"title":"East","labelPadding":-1,"titlePadding":13,"titleX":132}},"y":{"field":"y","type":"quantitative","scale":{"domain":[-600,3900],"nice":false,"zero":false},"axis":{"values":[-600,3900],"title":"North","labelPadding":3,"titlePadding":10}},"color":{"field":"r","type":"quantitative","scale":{"domain":[0,3000],"range":["#000000","#ff0000","#ffff00","#ffffff"],"interpolate":"rgb"},"legend":{"orient":"none","legendX":292,"legendY":27,"values":[0,300,600,900,1200,1500,1800,2100,2400,2700,3000],"format":"d","encode":{"labels":{"update":{"baseline":{"value":"alphabetic"}}}}}}}},
{"data":{"name":"cells"},"mark":{"type":"rect","width":18,"height":19,"clip":true,"opacity":0.35,"xOffset":2,"yOffset":2},"encoding":{"x":{"field":"x","type":"quantitative"},"y":{"field":"y","type":"quantitative"},"color":{"field":"r","type":"quantitative"}}},
{"data":{"name":"bnd"},"mark":{"type":"area","orient":"horizontal","color":"white","clip":true},"encoding":{"y":{"field":"y","type":"quantitative"},"x":{"field":"xl","type":"quantitative"},"x2":{"datum":850}}},
{"data":{"name":"bnd"},"mark":{"type":"area","orient":"horizontal","color":"white","clip":true},"encoding":{"y":{"field":"y","type":"quantitative"},"x":{"field":"xr","type":"quantitative"},"x2":{"datum":5100}}}]},
{"title":{"text":"Local anisotropy angles","offset":0},"width":246,"height":269,"view":{"stroke":"#ccc","strokeWidth":2},"layer":[
{"data":{"name":"arrows"},"mark":{"type":"point","shape":"M0,-1L0,1M-0.14,-0.65L0,-1L0.14,-0.65M-0.14,0.65L0,1L0.14,0.65","color":"#2a2aff","filled":false,"strokeWidth":0.9,"opacity":1,"size":100},"encoding":{"x":{"field":"x","type":"quantitative","scale":{"domain":[850,5050],"nice":false,"zero":false},"axis":{"values":[850,5050],"title":"East","labelPadding":2,"titlePadding":-9,"titleX":127}},"y":{"field":"y","type":"quantitative","scale":{"domain":[-650,3950],"nice":false,"zero":false},"axis":{"values":[-650,3950],"title":"North","labelPadding":3,"titlePadding":-23}},"angle":{"field":"t","type":"quantitative","scale":null}}},
{"data":{"name":"key"},"mark":{"type":"point","shape":"M0,-1L0,1M-0.22,-0.55L0,-1L0.22,-0.55ZM-0.22,0.55L0,1L0.22,0.55Z","color":"#2a2aff","filled":true,"stroke":"#2a2aff","strokeWidth":1,"opacity":1,"size":576},"encoding":{"x":{"field":"x","type":"quantitative"},"y":{"field":"y","type":"quantitative"},"angle":{"field":"t","type":"quantitative","scale":null}}}]},
{"title":{"text":"Local anisotropy ratio","offset":9},"width":254,"height":269,"layer":[
{"data":{"name":"cells"},"mark":{"type":"rect","width":10.6,"height":11.2,"clip":true},"encoding":{"x":{"field":"x","type":"quantitative","scale":{"domain":[850,5100],"nice":false,"zero":false},"axis":{"values":[850,5100],"title":"East","labelPadding":-1,"titlePadding":13,"titleX":132}},"y":{"field":"y","type":"quantitative","scale":{"domain":[-600,3900],"nice":false,"zero":false},"axis":{"values":[-600,3900],"title":"North","labelPadding":3,"titlePadding":10}},"color":{"field":"a","type":"quantitative","scale":{"domain":[0,30],"range":["#000000","#ff0000","#ffff00","#ffffff"],"interpolate":"rgb"},"legend":{"orient":"none","legendX":292,"legendY":27,"values":[0,3,6,9,12,15,18,21,24,27,30],"format":"d","encode":{"labels":{"update":{"baseline":{"value":"alphabetic"}}}}}}}},
{"data":{"name":"cells"},"mark":{"type":"rect","width":18,"height":19,"clip":true,"opacity":0.35,"xOffset":2,"yOffset":2},"encoding":{"x":{"field":"x","type":"quantitative"},"y":{"field":"y","type":"quantitative"},"color":{"field":"a","type":"quantitative"}}},
{"data":{"name":"bnd"},"mark":{"type":"area","orient":"horizontal","color":"white","clip":true},"encoding":{"y":{"field":"y","type":"quantitative"},"x":{"field":"xl","type":"quantitative"},"x2":{"datum":850}}},
{"data":{"name":"bnd"},"mark":{"type":"area","orient":"horizontal","color":"white","clip":true},"encoding":{"y":{"field":"y","type":"quantitative"},"x":{"field":"xr","type":"quantitative"},"x2":{"datum":5100}}}]}
]}
